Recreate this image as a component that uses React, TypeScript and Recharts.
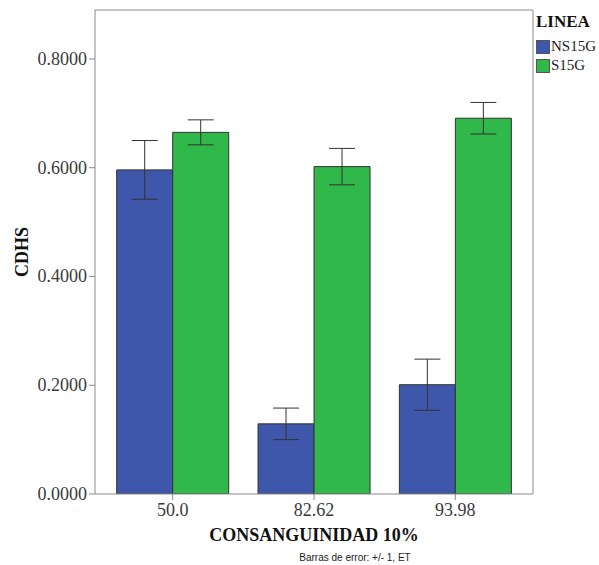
import React from 'react';
import { ComposedChart, Bar, XAxis, YAxis, ErrorBar } from 'recharts';

const categories = ['50.0', '82.62', '93.98'];
const ns15gValues = [0.596, 0.129, 0.201];
const ns15gErrors = [0.054, 0.029, 0.047];
const s15gValues = [0.665, 0.602, 0.691];
const s15gErrors = [0.023, 0.0335, 0.029];
const yTicks = [0, 0.2, 0.4, 0.6, 0.8];

const data = categories.map((c, i) => ({
  cat: c,
  ns: ns15gValues[i],
  nsErr: ns15gErrors[i],
  s: s15gValues[i],
  sErr: s15gErrors[i],
}));

const BLUE = '#3e57ab';
const GREEN = '#30b84a';
const AXIS = '#8a8a8a';
const SERIF = '"Liberation Serif", "Times New Roman", serif';

const XTick = (props: any) => {
  const { x, y, payload } = props;
  return (
    <text x={x} y={y + 13} textAnchor="middle" style={{ fontFamily: SERIF, fontSize: 18 }} fill="#3a3a3a">
      {payload.value}
    </text>
  );
};

const YTick = (props: any) => {
  const { x, y, payload } = props;
  return (
    <text x={x} y={y + 6} textAnchor="end" style={{ fontFamily: SERIF, fontSize: 18 }} fill="#3a3a3a">
      {Number(payload.value).toFixed(4)}
    </text>
  );
};

const XTitle = (props: any) => {
  const vb = props.viewBox || {};
  const cx = vb.x + vb.width / 2;
  return (
    <g>
      <text x={cx} y={vb.y + 47} textAnchor="middle" style={{ fontFamily: SERIF, fontWeight: 'bold', fontSize: 18 }} fill="#111">
        CONSANGUINIDAD 10%
      </text>
      <text x={cx + 41} y={vb.y + 67} textAnchor="middle" style={{ fontFamily: '"Liberation Sans", Arial, sans-serif', fontSize: 10 }} fill="#222">
        Barras de error: +/- 1, ET
      </text>
    </g>
  );
};

const YTitle = (props: any) => {
  const vb = props.viewBox || {};
  const cy = vb.y + vb.height / 2;
  const x = 28;
  return (
    <text x={x} y={cy} transform={`rotate(-90 ${x} ${cy})`} textAnchor="middle" style={{ fontFamily: SERIF, fontWeight: 'bold', fontSize: 18 }} fill="#111">
      CDHS
    </text>
  );
};

export default function App() {
  return (
    <div style={{ position: 'absolute', left: 0, top: 0, width: 599, height: 565, background: '#fff' }}>
      <ComposedChart
        width={599}
        height={565}
        data={data}
        margin={{ top: 9, right: 65, bottom: 0, left: 0 }}
        barCategoryGap="10.4%"
        barGap={0}
      >
        <XAxis
          dataKey="cat"
          height={71}
          padding={{ left: 7, right: 7 }}
          axisLine={{ stroke: AXIS }}
          tickLine={{ stroke: AXIS }}
          tickSize={6}
          tickMargin={3}
          tick={<XTick />}
          label={<XTitle />}
        />
        <XAxis
          xAxisId="top"
          orientation="top"
          dataKey="cat"
          height={1}
          tick={false}
          tickLine={false}
          axisLine={{ stroke: AXIS }}
        />
        <YAxis
          width={95}
          domain={[0, 0.89]}
          ticks={yTicks}
          allowDataOverflow
          axisLine={{ stroke: AXIS }}
          tickLine={{ stroke: AXIS }}
          tickSize={6}
          tickMargin={2}
          tick={<YTick />}
          label={<YTitle />}
        />
        <YAxis
          yAxisId="right"
          orientation="right"
          width={1}
          domain={[0, 0.89]}
          tick={false}
          tickLine={false}
          axisLine={{ stroke: AXIS }}
        />
        <Bar dataKey="ns" fill={BLUE} stroke="#333" strokeWidth={1} isAnimationActive={false}>
          <ErrorBar dataKey="nsErr" width={13} stroke="#333" strokeWidth={1} direction="y" />
        </Bar>
        <Bar dataKey="s" fill={GREEN} stroke="#333" strokeWidth={1} isAnimationActive={false}>
          <ErrorBar dataKey="sErr" width={13} stroke="#333" strokeWidth={1} direction="y" />
        </Bar>
      </ComposedChart>
      <div style={{ position: 'absolute', left: 536, top: 12, fontFamily: SERIF, color: '#111' }}>
        <div style={{ fontWeight: 'bold', fontSize: 17, lineHeight: '20px', marginBottom: 5 }}>LINEA</div>
        <div style={{ display: 'flex', alignItems: 'center', height: 19, fontSize: 15, color: '#222', whiteSpace: 'nowrap' }}>
          <span style={{ display: 'inline-block', width: 12, height: 12, background: BLUE, border: '1px solid #555', marginRight: 1 }} />
          NS15G
        </div>
        <div style={{ display: 'flex', alignItems: 'center', height: 19, fontSize: 15, color: '#222', whiteSpace: 'nowrap' }}>
          <span style={{ display: 'inline-block', width: 12, height: 12, background: GREEN, border: '1px solid #555', marginRight: 1 }} />
          S15G
        </div>
      </div>
    </div>
  );
}
